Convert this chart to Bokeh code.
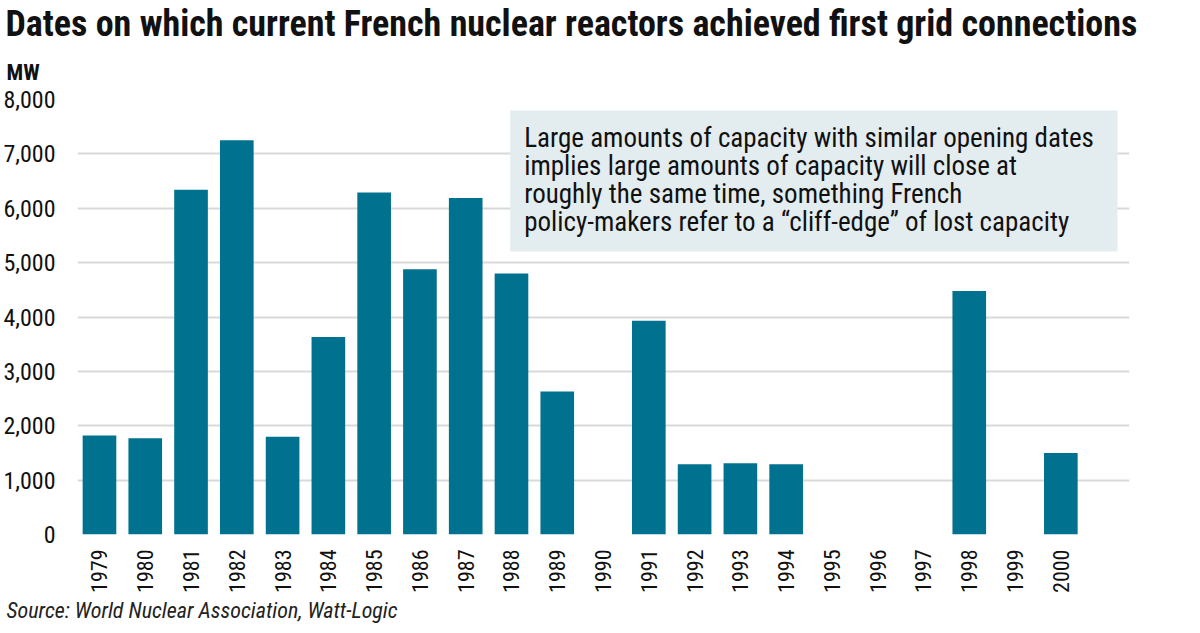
import math
from bokeh.plotting import figure
from bokeh.models import Range1d, FixedTicker, Label, BoxAnnotation, NumeralTickFormatter, Title
from bokeh.embed import file_html
from bokeh.resources import INLINE

# ---- data ----
years = list(range(1979, 2001))
capacity_mw = [1820, 1770, 6340, 7250, 1800, 3630, 6290, 4880, 6190, 4800, 2630,
               0, 3930, 1290, 1310, 1290, 0, 0, 0, 4480, 0, 1500]
y_ticks = [0, 1000, 2000, 3000, 4000, 5000, 6000, 7000, 8000]

title_text = "Dates on which current French nuclear reactors achieved first grid connections"
unit_text = "MW"
note_lines = [
    "Large amounts of capacity with similar opening dates",
    "implies large amounts of capacity will close at",
    "roughly the same time, something French",
    "policy-makers refer to a \u201ccliff-edge\u201d of lost capacity",
]
source_text = "Source: World Nuclear Association, Watt-Logic"

FONT = "Roboto Condensed"
BAR = "#00728f"

W, H = 1200, 633
FL, FR, FT, FB = 74, 1129, 99, 534
X0, X1 = 1978.52, 2001.5
Y0, Y1 = 0, 8000

def dx(px):
    return X0 + (px - FL) * (X1 - X0) / (FR - FL)

def dy(py):
    return Y0 + (FB - py) * (Y1 - Y0) / (FB - FT)

p = figure(width=W, height=H, output_backend="svg", toolbar_location=None,
           x_range=Range1d(X0, X1), y_range=Range1d(Y0, Y1),
           min_border_left=FL, min_border_right=W - FR,
           min_border_top=FT, min_border_bottom=H - FB)
p.outline_line_color = None
p.background_fill_color = "white"
p.border_fill_color = "white"

p.vbar(x=years, top=capacity_mw, width=0.735, fill_color=BAR, line_color=None)

# axes
p.xaxis.ticker = FixedTicker(ticks=years)
p.xaxis.major_label_orientation = math.pi / 2
p.xaxis.major_label_text_font = FONT
p.xaxis.major_label_text_font_size = "22px"
p.xaxis.major_label_text_color = "#111111"
p.xaxis.major_label_standoff = 9
p.xaxis.axis_line_color = None
p.xaxis.major_tick_line_color = None
p.xaxis.minor_tick_line_color = None

p.yaxis.ticker = FixedTicker(ticks=y_ticks)
p.yaxis.formatter = NumeralTickFormatter(format="0,0")
p.yaxis.major_label_text_font = FONT
p.yaxis.major_label_text_font_size = "24px"
p.yaxis.major_label_text_color = "#111111"
p.yaxis.major_label_standoff = 16
p.yaxis.axis_line_color = None
p.yaxis.major_tick_line_color = None
p.yaxis.minor_tick_line_color = None

p.xgrid.grid_line_color = None
p.ygrid.ticker = FixedTicker(ticks=y_ticks)
p.ygrid.grid_line_color = "#d9d9d9"
p.ygrid.grid_line_width = 2

# annotation box
box = BoxAnnotation(left=dx(508), right=dx(1117), top=dy(110), bottom=dy(251),
                    fill_color="#e3ecef", fill_alpha=1.0, line_color=None, level="annotation")
p.add_layout(box)
for i, line in enumerate(note_lines):
    p.add_layout(Label(x=dx(522), y=dy(137 + 28 * i), text=line, text_font=FONT,
                       text_font_size="27px", text_color="#111111",
                       text_baseline="middle", text_align="left"))

# unit (closest to the frame) then main title above it
p.add_layout(Title(text=unit_text, align="left", offset=-71, standoff=27,
                   vertical_align="middle",
                   text_font=FONT, text_font_style="bold", text_font_size="22px",
                   text_color="#111111"), "above")
p.add_layout(Title(text=title_text, align="left", offset=-72, standoff=0,
                   vertical_align="middle",
                   text_font=FONT, text_font_style="bold", text_font_size="36px",
                   text_color="#111111"), "above")
p.add_layout(Title(text=source_text, align="left", offset=-71, standoff=0,
                   text_font=FONT, text_font_style="italic", text_font_size="22px",
                   text_color="#222222"), "below")

open("out.html", "w").write(file_html(p, INLINE))
